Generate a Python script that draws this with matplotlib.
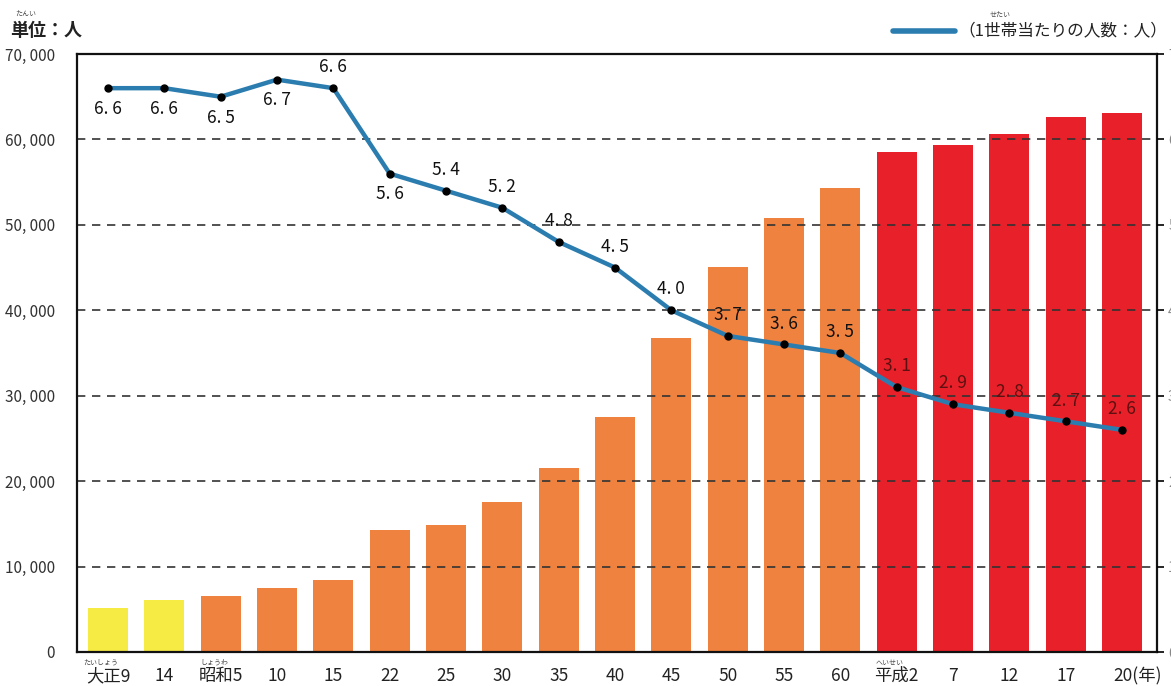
import numpy as np
import matplotlib
matplotlib.use("Agg")
import matplotlib.pyplot as plt
from matplotlib.lines import Line2D

plt.rcParams["font.family"] = ["Noto Sans CJK JP", "DejaVu Sans"]

# ---- data: population (bars) and persons per household (line) ----
years = ["大正9", "14", "昭和5", "10", "15", "22", "25", "30", "35", "40",
         "45", "50", "55", "60", "平成2", "7", "12", "17", "20(年)"]
era = ["taisho"] * 2 + ["showa"] * 12 + ["heisei"] * 5
population = [5150, 6100, 6550, 7500, 8450, 14300, 14900, 17600, 21550, 27550,
              36700, 45100, 50800, 54300, 58550, 59400, 60650, 62600, 63100]
per_household = [6.6, 6.6, 6.5, 6.7, 6.6, 5.6, 5.4, 5.2, 4.8, 4.5,
                 4.0, 3.7, 3.6, 3.5, 3.1, 2.9, 2.8, 2.7, 2.6]
# which label sits under its point instead of above
label_below = [True, True, True, True, False, True] + [False] * 13

ERA_COLOR = {"taisho": "#F6EA45", "showa": "#F0823F", "heisei": "#E8202A"}
LABEL_COLOR = {"taisho": "#111111", "showa": "#111111", "heisei": "#5e1010"}
LINE_C = "#2B7DB0"

W, H = 1171, 686
fig = plt.figure(figsize=(W / 100, H / 100), dpi=100)
ax = fig.add_axes([77 / W, 1 - 652 / H, (1157 - 77) / W, (652 - 54) / H])
ax2 = ax.twinx()

x = np.arange(len(years))
ax.bar(x, population, width=0.71, color=[ERA_COLOR[e] for e in era], zorder=2)
ax.set_xlim(-0.55, len(years) - 0.38)
ax.set_ylim(0, 70000)
ax.set_yticks(np.arange(0, 70001, 10000))
ax.set_yticklabels([f"{v:,}".replace(",", ", ") for v in range(0, 70001, 10000)],
                   fontsize=11, color="#333")
ax.tick_params(axis="y", length=0, pad=16)
for v in range(10000, 70000, 10000):
    ax.axhline(v, color="#333", lw=1.2, ls=(0, (5, 4)), zorder=2.5)
for s in ax.spines.values():
    s.set_linewidth(1.6)
    s.set_color("#111")

# x labels drawn as text so era furigana can sit above them
ax.set_xticks([])
for i, lab in enumerate(years):
    xi = i - 0.15 if lab.endswith("(年)") else i
    ha = "left" if lab.endswith("(年)") else "center"
    ax.text(xi, -0.04, lab, transform=ax.get_xaxis_transform(), ha=ha, va="center",
            fontsize=12.5, color="#222")
furigana = {0: "たいしょう", 2: "しょうわ", 14: "へいせい"}
for i, f in furigana.items():
    ax.text(i - 0.12, -0.018, f, transform=ax.get_xaxis_transform(), ha="center",
            va="center", fontsize=5, color="#444")

# persons per household
ax2.plot(x, per_household, color=LINE_C, lw=3.2, zorder=3)
ax2.plot(x, per_household, "o", color="black", ms=5, zorder=4)
ax2.set_ylim(0, 7)
ax2.set_yticks(range(8))
ax2.tick_params(axis="y", length=5, width=1.2, pad=3, labelsize=10, labelcolor="#888")
for s in ax2.spines.values():
    s.set_visible(False)
for i, v in enumerate(per_household):
    dy = -15 if label_below[i] else 15
    ax2.annotate(f"{v:.1f}".replace(".", ". "), (i, v), xytext=(0, dy),
                 textcoords="offset points", ha="center", va="center",
                 fontsize=12.5, color=LABEL_COLOR[era[i]], zorder=5)

# header: unit and line legend
fig.text(10 / W, 1 - 31 / H, "単位：人", fontsize=13, ha="left", va="center",
         color="#222", fontweight="bold")
fig.text(26 / W, 1 - 15 / H, "たんい", fontsize=5, ha="center", va="center", color="#444")
fig.add_artist(Line2D([893 / W, 955 / W], [1 - 31 / H] * 2, color=LINE_C, lw=4,
                      solid_capstyle="round"))
fig.text(958 / W, 1 - 31 / H, "（1世帯当たりの人数：人）", fontsize=12, ha="left",
         va="center", color="#222")
fig.text(1000 / W, 1 - 16 / H, "せたい", fontsize=5, ha="center", va="center", color="#444")

fig.savefig("out.png", dpi=100)
